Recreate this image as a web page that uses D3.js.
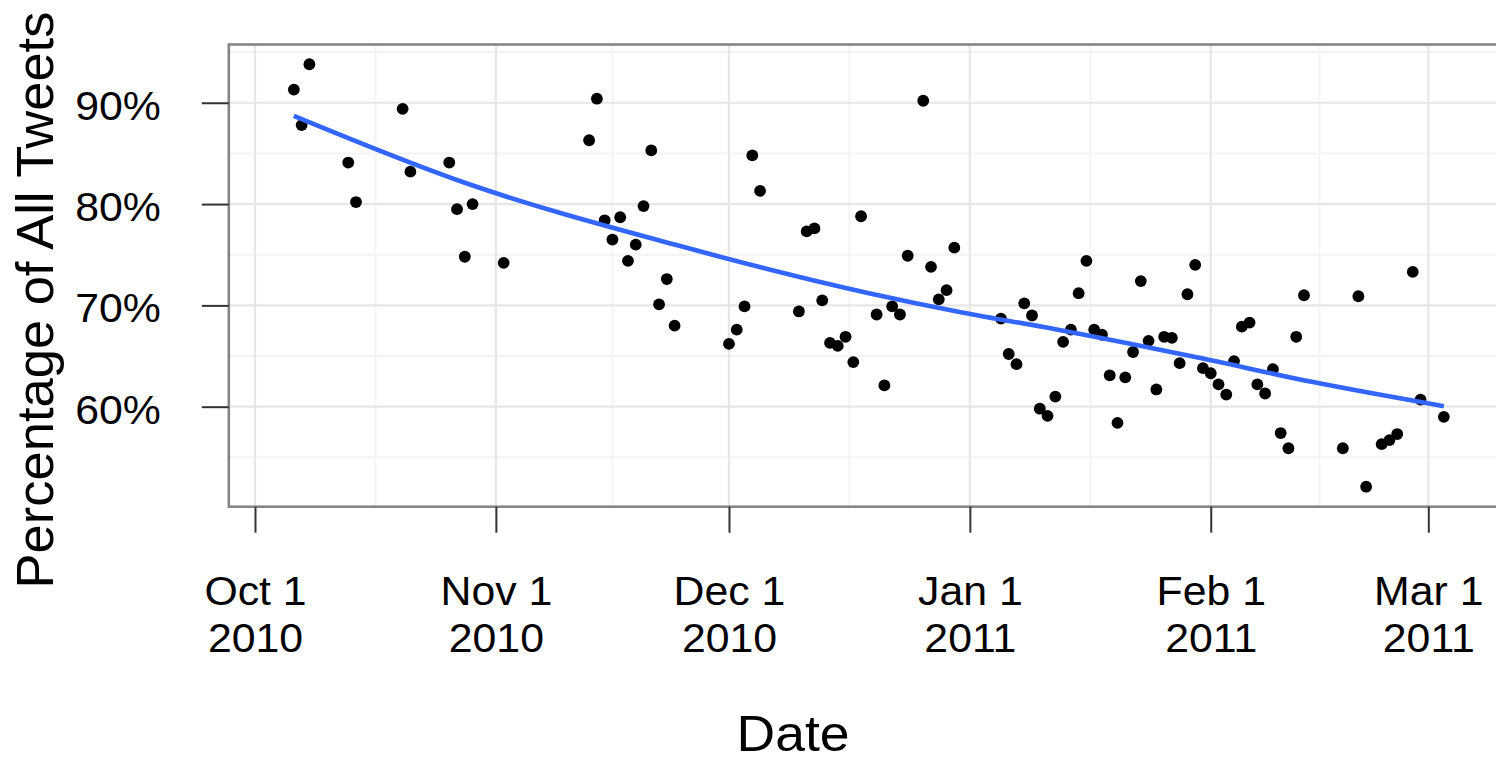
<!DOCTYPE html>
<html>
<head>
<meta charset="utf-8">
<script src="https://cdn.jsdelivr.net/npm/d3@7"></script>
<style>
  html, body { margin: 0; padding: 0; background: #fff; }
  svg { display: block; }
  text { font-family: "Liberation Sans", Arial, Helvetica, sans-serif; fill: #000; }
</style>
</head>
<body>
<svg id="chart" width="1496" height="762"></svg>
<script>
// Daily share of tweets (percent) over the period
const dates = [
  "2010-10-06","2010-10-07","2010-10-08","2010-10-13","2010-10-14","2010-10-20","2010-10-21",
  "2010-10-26","2010-10-27","2010-10-28","2010-10-29",
  "2010-11-02","2010-11-13","2010-11-14","2010-11-15","2010-11-16","2010-11-17","2010-11-18",
  "2010-11-19","2010-11-20","2010-11-21","2010-11-22","2010-11-23","2010-11-24",
  "2010-12-01","2010-12-02","2010-12-03","2010-12-04","2010-12-05",
  "2010-12-10","2010-12-11","2010-12-12","2010-12-13","2010-12-14","2010-12-15","2010-12-16",
  "2010-12-17","2010-12-18","2010-12-20","2010-12-21","2010-12-22","2010-12-23","2010-12-24",
  "2010-12-26","2010-12-27","2010-12-28","2010-12-29","2010-12-30",
  "2011-01-05","2011-01-06","2011-01-07","2011-01-08","2011-01-09","2011-01-10","2011-01-11",
  "2011-01-12","2011-01-13","2011-01-14","2011-01-15","2011-01-16","2011-01-17","2011-01-18",
  "2011-01-19","2011-01-20","2011-01-21","2011-01-22","2011-01-23","2011-01-24","2011-01-25",
  "2011-01-26","2011-01-27","2011-01-28","2011-01-29","2011-01-30","2011-01-31",
  "2011-02-01","2011-02-02","2011-02-03","2011-02-04","2011-02-05","2011-02-06","2011-02-07",
  "2011-02-08","2011-02-09","2011-02-10","2011-02-11","2011-02-12","2011-02-13",
  "2011-02-18","2011-02-20","2011-02-21","2011-02-23","2011-02-24","2011-02-25",
  "2011-02-27","2011-02-28","2011-03-03"
];
const shares = [
  91.3, 87.8, 93.8, 84.1, 80.2, 89.4, 83.2, 84.1, 79.5, 74.8, 80.0,
  74.2, 86.3, 90.4, 78.4, 76.5, 78.7, 74.4, 76.0, 79.8, 85.3, 70.1, 72.6, 68.0,
  66.2, 67.6, 69.9, 84.8, 81.3,
  69.4, 77.3, 77.6, 70.5, 66.3, 66.0, 66.9, 64.4, 78.8,
  69.1, 62.1, 69.9, 69.1, 74.9,
  90.2, 73.8, 70.6, 71.5, 75.7,
  68.7, 65.2, 64.2, 70.2, 69.0, 59.8, 59.1, 61.0, 66.4, 67.6, 71.2, 74.4, 67.6, 67.1,
  63.1, 58.4, 62.9, 65.4, 72.4, 66.5, 61.7, 66.9, 66.8, 64.3, 71.1, 74.0, 63.8,
  63.3, 62.2, 61.2, 64.5, 67.9, 68.3, 62.2, 61.3, 63.7, 57.4, 55.9, 66.9, 71.0,
  55.9, 70.9, 52.1, 56.3, 56.7, 57.3, 73.3, 60.7, 59.0
];

// Smoothed trend
const trendDates = ["2010-10-06","2010-10-28","2010-11-24","2010-12-19","2010-12-31",
                    "2011-01-12","2011-01-31","2011-02-14","2011-03-03"];
const trendShares = [88.7, 82.1, 76.0, 71.2, 69.3, 67.65, 64.75, 62.45, 60.05];

// Axis breaks
const monthTicks = ["2010-10-01","2010-11-01","2010-12-01","2011-01-01","2011-02-01","2011-03-01"];
const monthLabels = [["Oct 1","2010"],["Nov 1","2010"],["Dec 1","2010"],
                     ["Jan 1","2011"],["Feb 1","2011"],["Mar 1","2011"]];
const yTicks = [60, 70, 80, 90];
const yMinor = [55, 65, 75, 85, 95];

const xTitle = "Date";
const yTitle = "Percentage of All Tweets";

const parse = d3.utcParse("%Y-%m-%d");
const svg = d3.select("#chart");

const panel = { left: 228.8, top: 44.5, right: 1503, bottom: 506.7 };
const stretch = 1.07;

const x = d3.scaleUtc()
  .domain([parse("2010-10-01"), parse("2011-03-01")])
  .range([255, 1428.3]);
const y = d3.scaleLinear()
  .domain([50, 95.8])
  .range([508, 44]);

const majorX = monthTicks.map(parse);
const minorX = d3.pairs(majorX).map(([a, b]) => new Date((+a + +b) / 2));

svg.append("rect").attr("width", 1496).attr("height", 762).attr("fill", "#fff");

svg.append("clipPath").attr("id", "panel-clip")
  .append("rect")
  .attr("x", panel.left).attr("y", panel.top)
  .attr("width", panel.right - panel.left).attr("height", panel.bottom - panel.top);

const grid = svg.append("g").attr("clip-path", "url(#panel-clip)");

// minor grid
grid.selectAll("line.minor-x").data(minorX).join("line")
  .attr("x1", d => x(d)).attr("x2", d => x(d))
  .attr("y1", panel.top).attr("y2", panel.bottom)
  .attr("stroke", "#f3f3f3").attr("stroke-width", 2);
grid.selectAll("line.minor-y").data(yMinor).join("line")
  .attr("x1", panel.left).attr("x2", panel.right)
  .attr("y1", d => y(d)).attr("y2", d => y(d))
  .attr("stroke", "#f3f3f3").attr("stroke-width", 2);

// major grid
grid.selectAll("line.major-x").data(majorX).join("line")
  .attr("x1", d => x(d)).attr("x2", d => x(d))
  .attr("y1", panel.top).attr("y2", panel.bottom)
  .attr("stroke", "#e6e6e6").attr("stroke-width", 2.2);
grid.selectAll("line.major-y").data(yTicks).join("line")
  .attr("x1", panel.left).attr("x2", panel.right)
  .attr("y1", d => y(d)).attr("y2", d => y(d))
  .attr("stroke", "#e6e6e6").attr("stroke-width", 2.2);

// points
const pts = dates.map((d, i) => ({ date: parse(d), v: shares[i] }));
grid.selectAll("circle").data(pts).join("circle")
  .attr("cx", d => x(d.date))
  .attr("cy", d => y(d.v))
  .attr("r", 5.9)
  .attr("fill", "#000");

// trend line
const trend = trendDates.map((d, i) => ({ date: parse(d), v: trendShares[i] }));
grid.append("path")
  .datum(trend)
  .attr("fill", "none")
  .attr("stroke", "#3366FF")
  .attr("stroke-width", 4.6)
  .attr("d", d3.line().x(d => x(d.date)).y(d => y(d.v)).curve(d3.curveMonotoneX));

// panel border
svg.append("rect")
  .attr("x", panel.left).attr("y", panel.top)
  .attr("width", panel.right - panel.left).attr("height", panel.bottom - panel.top)
  .attr("fill", "none").attr("stroke", "#858585").attr("stroke-width", 2.6);

// y axis
const yAxis = svg.append("g")
  .attr("transform", `translate(${panel.left},0)`)
  .call(d3.axisLeft(y).tickValues(yTicks).tickSize(27).tickPadding(41).tickFormat(d => d + "%"));
yAxis.select(".domain").remove();
yAxis.selectAll(".tick line").attr("stroke", "#333").attr("stroke-width", 2);
yAxis.selectAll(".tick text")
  .attr("x", -68 / stretch)
  .attr("dy", "0.41em")
  .attr("transform", `scale(${stretch},1)`)
  .attr("font-size", 40)
  .attr("fill", "#000")
  .style("font-family", '"Liberation Sans", Arial, Helvetica, sans-serif');

// x axis
const xAxis = svg.append("g")
  .attr("transform", `translate(0,${panel.bottom})`)
  .call(d3.axisBottom(x).tickValues(majorX).tickSize(26).tickFormat(""));
xAxis.select(".domain").remove();
xAxis.selectAll(".tick line").attr("stroke", "#333").attr("stroke-width", 2);
xAxis.selectAll(".tick text").remove();
xAxis.selectAll(".tick").each(function(d, i) {
  const t = d3.select(this).append("text")
    .attr("text-anchor", "middle")
    .attr("font-size", 40)
    .attr("transform", `scale(${stretch},1)`);
  t.append("tspan").attr("x", 0).attr("y", 98).text(monthLabels[i][0]);
  t.append("tspan").attr("x", 0).attr("y", 145).text(monthLabels[i][1]);
});

// axis titles
svg.append("text")
  .attr("transform", `translate(793,751) scale(${stretch},1)`)
  .attr("text-anchor", "middle")
  .attr("font-size", 50)
  .text(xTitle);

svg.append("text")
  .attr("transform", "translate(53,300) rotate(-90)")
  .attr("text-anchor", "middle")
  .attr("font-size", 52.5)
  .text(yTitle);
</script>
</body>
</html>
